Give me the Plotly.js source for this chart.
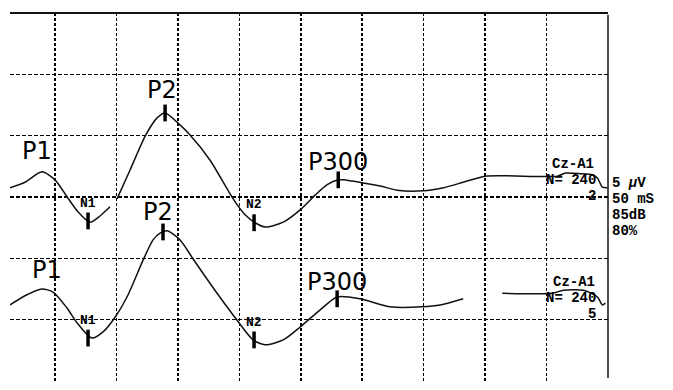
<!DOCTYPE html>
<html>
<head>
<meta charset="utf-8">
<script src="https://cdn.plot.ly/plotly-3.0.1.min.js"></script>
<style>html,body{margin:0;padding:0;background:#fff;}#chart{width:673px;height:390px;}</style>
</head>
<body>
<div id="chart"></div>
<script>
// time (ms) and amplitude (grid divisions) of the upper trace
const upperTime = [13.4,25.6,39.4,50,60.6,68.7,78.5,86.6,94.8,null,100.5,111.1,123.3,133.1,139.6,149.3,159.9,176.2,195,204.7,212.9,221,235.7,249.5,261.7,271.5,280.5,284.5,300.8,314.7,328.5,349.7,366,382.2,400.2,458.8,465.3,477.5,487.3,491.4,495.4,499.5];
const upperAmp  = [3.15,3.24,3.41,3.28,2.98,2.76,2.59,2.69,2.84,null,2.97,3.44,3.99,4.29,4.37,4.22,4.01,3.60,2.97,2.71,2.58,2.51,2.59,2.79,3.03,3.20,3.28,3.28,3.23,3.18,3.11,3.10,3.15,3.24,3.34,3.34,3.39,3.38,3.36,3.31,3.16,3.15];
// lower trace
const lowerTime = [13.4,25.6,39.4,48.4,59.8,67.9,80.1,89.1,98.9,108.6,121.7,129.8,135.5,141.2,151.8,162.4,181.9,198.2,211.2,221,235.7,249.5,265.8,279.6,298.4,322.8,348.9,363.5,382.2,null,414,454.7,463.7,480,491.4,495.4,497.9];
const lowerAmp  = [1.24,1.39,1.50,1.45,1.19,0.95,0.70,0.80,1.04,1.37,1.97,2.30,2.41,2.45,2.30,1.99,1.43,0.99,0.67,0.59,0.67,0.88,1.16,1.37,1.34,1.21,1.21,1.24,1.34,null,1.43,1.43,1.48,1.48,1.37,1.24,1.27];
// component peak markers
const peakNamesUpper = ['N1','P2','N2','P300'];
const peakTimeUpper = [76.9,139.6,212,280.5];
const peakAmpUpper  = [2.61,4.37,2.58,3.28];
const peakNamesLower = ['N1','P2','N2','P300'];
const peakTimeLower = [76.9,137.9,212,279.6];
const peakAmpLower  = [0.70,2.43,0.67,1.34];
// grid
const xGrid = [50,100,150,200,250,300,350,400,450];
const yGrid = [1,2,3,4,5];
// texts
const infoLines = ['5 <i>µ</i>V','50 mS','85dB','80%'];
const channel = 'Cz-A1';
const nLabel = 'N= 240';
const upperSweep = '2';
const lowerSweep = '5';

const lineStyle = {color:'#111', width:1.5, shape:'spline', smoothing:0.7};
const tickMarker = {symbol:'line-ns', size:12, line:{color:'#000', width:3.5}, color:'#000'};

const traces = [
  {x:upperTime, y:upperAmp, mode:'lines', line:lineStyle, connectgaps:false, hoverinfo:'skip'},
  {x:lowerTime, y:lowerAmp, mode:'lines', line:lineStyle, connectgaps:false, hoverinfo:'skip'},
  {x:peakTimeUpper, y:peakAmpUpper, mode:'markers', marker:tickMarker, text:peakNamesUpper, hoverinfo:'text'},
  {x:peakTimeLower, y:peakAmpLower, mode:'markers', marker:tickMarker, text:peakNamesLower, hoverinfo:'text'}
];

const big = {family:'DejaVu Sans, Verdana, sans-serif', size:24, color:'#000'};
const small = {family:'Liberation Mono, Courier New, monospace', size:13, color:'#000', weight:'bold'};
const mono = {family:'Liberation Mono, Courier New, monospace', size:14, color:'#000', weight:'bold'};
const info = {family:'Liberation Mono, Courier New, monospace', size:14, color:'#000', weight:'bold'};

function ann(text, x, y, font, xanchor, xref, yref){
  return {text:text, x:x, y:y, xref:xref||'x', yref:yref||'y', showarrow:false, font:font, xanchor:xanchor||'center', yanchor:'middle'};
}

const annotations = [
  ann('P1', 35.3, 3.75, big),
  ann('P2', 137.1, 4.74, big),
  ann('P300', 280.5, 3.57, big),
  ann('N1', 76.9, 2.90, small),
  ann('N2', 212, 2.87, small),
  ann('P1', 43.5, 1.81, big),
  ann('P2', 133.9, 2.76, big),
  ann('P300', 279.6, 1.61, big),
  ann('N1', 76.9, 0.99, small),
  ann('N2', 212, 0.96, small),
  ann(channel, 490.5, 3.54, mono, 'right'),
  ann(nLabel, 492, 3.28, mono, 'right'),
  ann(upperSweep, 492, 3.01, mono, 'right'),
  ann(channel, 491.4, 1.61, mono, 'right'),
  ann(nLabel, 492, 1.36, mono, 'right'),
  ann(lowerSweep, 492, 1.09, mono, 'right')
];
const infoY = [0.538, 0.4946, 0.451, 0.408];
infoLines.forEach((t,i)=>annotations.push(ann(t, 1.003, infoY[i], info, 'left', 'paper', 'paper')));

const layout = {
  width:673, height:390,
  margin:{l:10, r:65, t:13, b:9},
  paper_bgcolor:'#fff', plot_bgcolor:'#fff',
  showlegend:false,
  xaxis:{range:[13.4,500], tickmode:'array', tickvals:xGrid, showticklabels:false, ticks:'',
         showgrid:true, gridcolor:'#000', gridwidth:1.5, griddash:'3px,2px', zeroline:false, showline:false, fixedrange:true},
  yaxis:{range:[0,6], tickmode:'array', tickvals:yGrid, showticklabels:false, ticks:'',
         showgrid:true, gridcolor:'#000', gridwidth:1.5, griddash:'4px,2px', zeroline:false, showline:false, fixedrange:true},
  shapes:[
    {type:'line', xref:'paper', yref:'paper', x0:0, x1:1, y0:1, y1:1, line:{color:'#111', width:2}},
    {type:'line', xref:'paper', yref:'paper', x0:1, x1:1, y0:0.008, y1:0.995, line:{color:'#111', width:1.5}}
  ],
  annotations:annotations
};

Plotly.newPlot('chart', traces, layout, {staticPlot:true, displayModeBar:false});
</script>
</body>
</html>
